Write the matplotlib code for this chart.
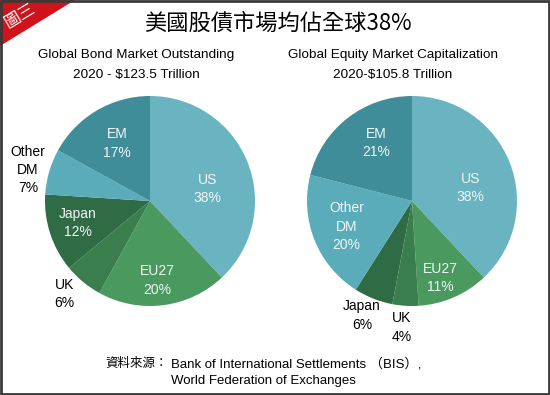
import numpy as np
import matplotlib
matplotlib.use("Agg")
import matplotlib.pyplot as plt
from matplotlib.patches import Polygon, Rectangle

# data
regions = ["US", "EU27", "UK", "Japan", "Other\nDM", "EM"]
bond_share = [38, 20, 6, 12, 7, 17]
equity_share = [38, 11, 4, 6, 20, 21]

title_txt = "美國股債市場均佔全球38%"
bond_title = "Global Bond Market Outstanding\n2020 - $123.5 Trillion"
equity_title = "Global Equity Market Capitalization\n2020-$105.8 Trillion"
source_cjk = "資料來源："
source_1 = "Bank of International Settlements （BIS）,"
source_2 = "World Federation of Exchanges"

# styles
slice_colors = ["#6ab3c1", "#4a9a60", "#3a7e4e", "#2f6b45", "#5aacba", "#3f8d98"]
inside_col = "#f2f7f7"
W, H = 550, 395
cjk = ["Noto Sans CJK TC", "DejaVu Sans"]
latin = ["Liberation Sans", "Noto Sans CJK TC", "DejaVu Sans"]


def fx(px):
    return px / W


def fy(py):
    return 1 - py / H


fig = plt.figure(figsize=(W / 100, H / 100), dpi=100)
fig.patch.set_facecolor("white")


def draw_pie(cx, cy, r, values, dist, nudge, outside):
    ax = fig.add_axes([fx(cx - r), fy(cy + r), 2 * r / W, 2 * r / H])
    wedges, _ = ax.pie(values, startangle=90, counterclock=False, colors=slice_colors,
                       wedgeprops=dict(linewidth=0))
    ax.set_xlim(-1, 1)
    ax.set_ylim(-1, 1)
    ax.set_aspect("equal")
    ax.axis("off")
    for i, w in enumerate(wedges):
        ang = np.deg2rad((w.theta1 + w.theta2) / 2 + nudge[i])
        col = "black" if i in outside else inside_col
        ax.text(dist[i] * np.cos(ang), dist[i] * np.sin(ang), f"{regions[i]}\n{values[i]}%",
                ha="center", va="center", fontsize=10, color=col, family=latin,
                linespacing=1.4, clip_on=False)
    return ax


# left: bonds, right: equities
draw_pie(150, 201, 105, bond_share,
         [0.56, 0.76, 1.2, 0.72, 1.2, 0.63], [-10, -2, -3, -1, 2, -1], [2, 4])
draw_pie(412, 201, 105, equity_share,
         [0.57, 0.78, 1.21, 1.19, 0.67, 0.65], [-9, -3, -1, -2, 0, -6], [2, 3])

# titles
fig.text(fx(278), fy(23), title_txt, ha="center", va="center", fontsize=16, family=cjk)
fig.text(fx(136), fy(65), bond_title, ha="center", va="center", fontsize=9.7,
         family=latin, linespacing=1.9)
fig.text(fx(393), fy(65), equity_title, ha="center", va="center", fontsize=9.7,
         family=latin, linespacing=1.9)

# source note
fig.text(fx(168), fy(363), source_cjk, ha="right", va="center", fontsize=9, family=cjk)
fig.text(fx(171), fy(364), source_1, ha="left", va="center", fontsize=9.5, family=latin)
fig.text(fx(171), fy(381), source_2, ha="left", va="center", fontsize=9.5, family=latin)

# red corner badge + frame
fig.patches.append(Polygon([[0, 1], [fx(75), 1], [0, fy(46)]], closed=True,
                           transform=fig.transFigure, facecolor="#d0121b", edgecolor="none"))
fig.text(fx(20), fy(16), "圖三", ha="center", va="center", fontsize=12, color="white",
         rotation=31, family=cjk)
fig.patches.append(Rectangle((0.001, 0.002), 0.997, 0.996, transform=fig.transFigure,
                             fill=False, edgecolor="#3a3a3a", linewidth=2))

fig.savefig("out.png", dpi=100)
